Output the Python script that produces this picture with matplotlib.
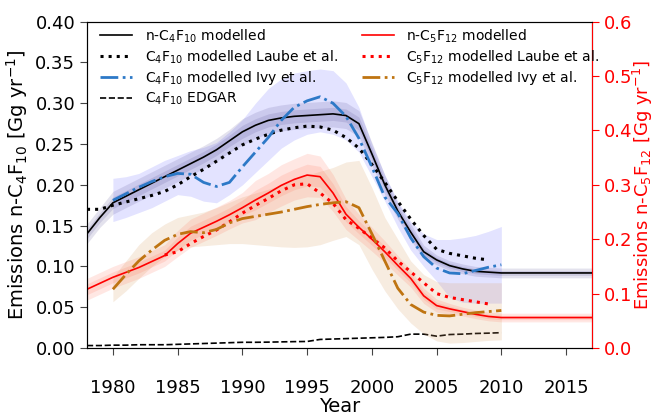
import numpy as np
import matplotlib
matplotlib.use("Agg")
import matplotlib.pyplot as plt
from matplotlib.ticker import FormatStrFormatter

# ---------------- data ----------------
years_model = np.arange(1978, 2018)
c4_model = [0.140, 0.160, 0.178, 0.186, 0.194, 0.202, 0.210, 0.218, 0.226, 0.234,
            0.243, 0.254, 0.265, 0.273, 0.279, 0.282, 0.284, 0.285, 0.286, 0.287,
            0.285, 0.275, 0.238, 0.200, 0.168, 0.142, 0.118, 0.108, 0.101, 0.097,
            0.094, 0.093, 0.092, 0.092, 0.092, 0.092, 0.092, 0.092, 0.092, 0.092]
c4_sig = [0.006, 0.006, 0.007, 0.007, 0.007, 0.007, 0.007, 0.007, 0.007, 0.007,
          0.007, 0.007, 0.008, 0.008, 0.008, 0.008, 0.008, 0.008, 0.008, 0.008,
          0.008, 0.008, 0.007, 0.006, 0.005, 0.005, 0.004, 0.003, 0.003, 0.003,
          0.003, 0.003, 0.003, 0.003, 0.003, 0.003, 0.003, 0.003, 0.003, 0.003]
c5_model = [0.108, 0.119, 0.130, 0.139, 0.148, 0.159, 0.170, 0.192, 0.211, 0.222,
            0.233, 0.245, 0.258, 0.272, 0.285, 0.299, 0.310, 0.318, 0.315, 0.285,
            0.246, 0.222, 0.200, 0.177, 0.152, 0.128, 0.096, 0.078, 0.072, 0.067,
            0.062, 0.058, 0.056, 0.056, 0.056, 0.056, 0.056, 0.056, 0.056, 0.056]
c5_sig = [0.010, 0.010, 0.010, 0.010, 0.010, 0.010, 0.010, 0.012, 0.013, 0.013,
          0.013, 0.013, 0.014, 0.018, 0.018, 0.019, 0.019, 0.020, 0.019, 0.017,
          0.014, 0.012, 0.011, 0.010, 0.009, 0.008, 0.007, 0.006, 0.005, 0.004,
          0.004, 0.004, 0.004, 0.004, 0.004, 0.004, 0.004, 0.004, 0.004, 0.004]

years_laube4 = np.arange(1978, 2010)
c4_laube = [0.170, 0.170, 0.175, 0.179, 0.183, 0.187, 0.192, 0.200, 0.210, 0.219,
            0.229, 0.239, 0.249, 0.256, 0.262, 0.267, 0.270, 0.272, 0.271, 0.267,
            0.258, 0.245, 0.225, 0.203, 0.180, 0.158, 0.138, 0.121, 0.116, 0.113,
            0.110, 0.108]

years_laube5 = np.arange(1984, 2010)
c5_laube = [0.171, 0.177, 0.192, 0.205, 0.217, 0.232, 0.248, 0.262, 0.275, 0.289,
            0.300, 0.302, 0.285, 0.266, 0.236, 0.220, 0.202, 0.184, 0.160, 0.140,
            0.120, 0.100, 0.093, 0.089, 0.085, 0.081]

years_ivy = np.arange(1980, 2011)
c4_ivy = [0.181, 0.189, 0.197, 0.204, 0.210, 0.214, 0.213, 0.203, 0.198, 0.203,
          0.222, 0.240, 0.258, 0.279, 0.295, 0.303, 0.308, 0.300, 0.284, 0.257,
          0.222, 0.185, 0.165, 0.135, 0.112, 0.098, 0.092, 0.091, 0.095, 0.099, 0.102]
c4_ivy_lo = [0.155, 0.160, 0.166, 0.172, 0.180, 0.188, 0.186, 0.180, 0.178, 0.188,
             0.200, 0.215, 0.230, 0.245, 0.255, 0.262, 0.265, 0.262, 0.255, 0.240,
             0.210, 0.180, 0.148, 0.120, 0.100, 0.082, 0.062, 0.056, 0.055, 0.055, 0.055]
c4_ivy_hi = [0.208, 0.210, 0.214, 0.222, 0.230, 0.236, 0.242, 0.246, 0.252, 0.265,
             0.280, 0.300, 0.318, 0.330, 0.337, 0.340, 0.342, 0.340, 0.325, 0.295,
             0.250, 0.212, 0.180, 0.155, 0.140, 0.133, 0.133, 0.135, 0.138, 0.143, 0.149]
c5_ivy = [0.108, 0.135, 0.160, 0.180, 0.198, 0.209, 0.214, 0.212, 0.218, 0.230,
          0.238, 0.242, 0.246, 0.250, 0.255, 0.260, 0.264, 0.267, 0.269, 0.258,
          0.210, 0.160, 0.110, 0.080, 0.066, 0.060, 0.059, 0.062, 0.065, 0.067, 0.069]
c5_ivy_lo = [0.085, 0.105, 0.128, 0.150, 0.168, 0.180, 0.186, 0.188, 0.190, 0.192,
             0.192, 0.190, 0.188, 0.186, 0.185, 0.186, 0.190, 0.198, 0.205, 0.190,
             0.145, 0.105, 0.072, 0.046, 0.026, 0.013, 0.009, 0.010, 0.012, 0.014, 0.015]
c5_ivy_hi = [0.130, 0.160, 0.190, 0.212, 0.228, 0.240, 0.245, 0.250, 0.258, 0.268,
             0.278, 0.285, 0.292, 0.300, 0.310, 0.318, 0.325, 0.332, 0.342, 0.345,
             0.295, 0.240, 0.200, 0.160, 0.135, 0.122, 0.120, 0.120, 0.120, 0.120, 0.120]

years_edgar = np.arange(1978, 2011)
c4_edgar = [0.003, 0.003, 0.0035, 0.0035, 0.004, 0.004, 0.004, 0.0045, 0.005, 0.0055,
            0.006, 0.0065, 0.007, 0.007, 0.0072, 0.0075, 0.0078, 0.008, 0.0105, 0.011,
            0.0115, 0.012, 0.0125, 0.013, 0.0138, 0.017, 0.017, 0.0145, 0.0165, 0.017,
            0.0178, 0.0182, 0.0188]

# ---------------- plot ----------------
BLUE = "#2d79c7"
BROWN = "#bf7411"
plt.rcParams['font.family'] = ['DejaVu Sans']

fig = plt.figure(figsize=(6.55, 4.16), dpi=100)
ax1 = fig.add_axes([87 / 655, 1 - 348 / 416, (592 - 87) / 655, (348 - 21.7) / 416])
ax2 = ax1.twinx()

c4m = np.array(c4_model); c4s = np.array(c4_sig)
c5m = np.array(c5_model); c5s = np.array(c5_sig)

# bands
ax1.fill_between(years_ivy, c4_ivy_lo, c4_ivy_hi, color="blue", alpha=0.11, lw=0)
ax1.fill_between(years_model, c4m - 2 * c4s, c4m + 2 * c4s, color="#483d8b", alpha=0.15, lw=0)
ax1.fill_between(years_model, c4m - c4s, c4m + c4s, color="#483d8b", alpha=0.15, lw=0)

ax2.fill_between(years_ivy, c5_ivy_lo, c5_ivy_hi, color="#d9a066", alpha=0.2, lw=0)
ax2.fill_between(years_model, c5m - 2 * c5s, c5m + 2 * c5s, color="tomato", alpha=0.15, lw=0)
ax2.fill_between(years_model, c5m - c5s, c5m + c5s, color="tomato", alpha=0.15, lw=0)

# lines C4F10
l1, = ax1.plot(years_model, c4_model, color="black", lw=1.2,
               label="n-C$_4$F$_{10}$ modelled")
l2, = ax1.plot(years_laube4, c4_laube, color="black", lw=2.2, ls=":",
               label="C$_4$F$_{10}$ modelled Laube et al.")
l3, = ax1.plot(years_ivy, c4_ivy, color=BLUE, lw=2.0, ls="-.",
               label="C$_4$F$_{10}$ modelled Ivy et al.")
l4, = ax1.plot(years_edgar, c4_edgar, color="black", lw=1.2, ls="--",
               label="C$_4$F$_{10}$ EDGAR")

# lines C5F12
r1, = ax2.plot(years_model, c5_model, color="red", lw=1.2,
               label="n-C$_5$F$_{12}$ modelled")
r2, = ax2.plot(years_laube5, c5_laube, color="red", lw=2.2, ls=":",
               label="C$_5$F$_{12}$ modelled Laube et al.")
r3, = ax2.plot(years_ivy, c5_ivy, color=BROWN, lw=2.0, ls="-.",
               label="C$_5$F$_{12}$ modelled Ivy et al.")

ax1.set_xlim(1978, 2017)
ax1.set_ylim(0, 0.40)
ax2.set_ylim(0, 0.6)
ax1.set_xticks([1980, 1985, 1990, 1995, 2000, 2005, 2010, 2015])
ax1.set_yticks(np.arange(0, 0.401, 0.05))
ax2.set_yticks(np.arange(0, 0.601, 0.1))
ax1.yaxis.set_major_formatter(FormatStrFormatter('%.2f'))
ax2.yaxis.set_major_formatter(FormatStrFormatter('%.1f'))

ax1.tick_params(axis='both', labelsize=13, length=5, color="#444444")
ax1.tick_params(axis='x', pad=17)
ax2.tick_params(axis='y', labelsize=13, length=5, colors="red")
ax2.spines['right'].set_color("red")
for s in ['left', 'bottom', 'top']:
    ax1.spines[s].set_color("#333333")

ax1.set_xlabel("Year", fontsize=14, labelpad=0)
ax1.set_ylabel("Emissions n-C$_4$F$_{10}$ [Gg yr$^{-1}$]", fontsize=14, labelpad=4)
ax2.set_ylabel("Emissions n-C$_5$F$_{12}$ [Gg yr$^{-1}$]", fontsize=13, color="red")
ax2.yaxis.set_label_coords(1.078, 0.5)

leg1 = ax2.legend(handles=[l1, l2, l3, l4], loc="upper left", frameon=False,
                  fontsize=10, handlelength=2.3, bbox_to_anchor=(0.015, 1.0),
                  borderaxespad=0.0, labelspacing=0.25, handletextpad=0.9)
ax2.add_artist(leg1)
ax2.legend(handles=[r1, r2, r3], loc="upper left", frameon=False,
           fontsize=10, handlelength=2.3, bbox_to_anchor=(0.533, 1.0),
           borderaxespad=0.0, labelspacing=0.25, handletextpad=0.9)

fig.savefig("out.png", dpi=100)
